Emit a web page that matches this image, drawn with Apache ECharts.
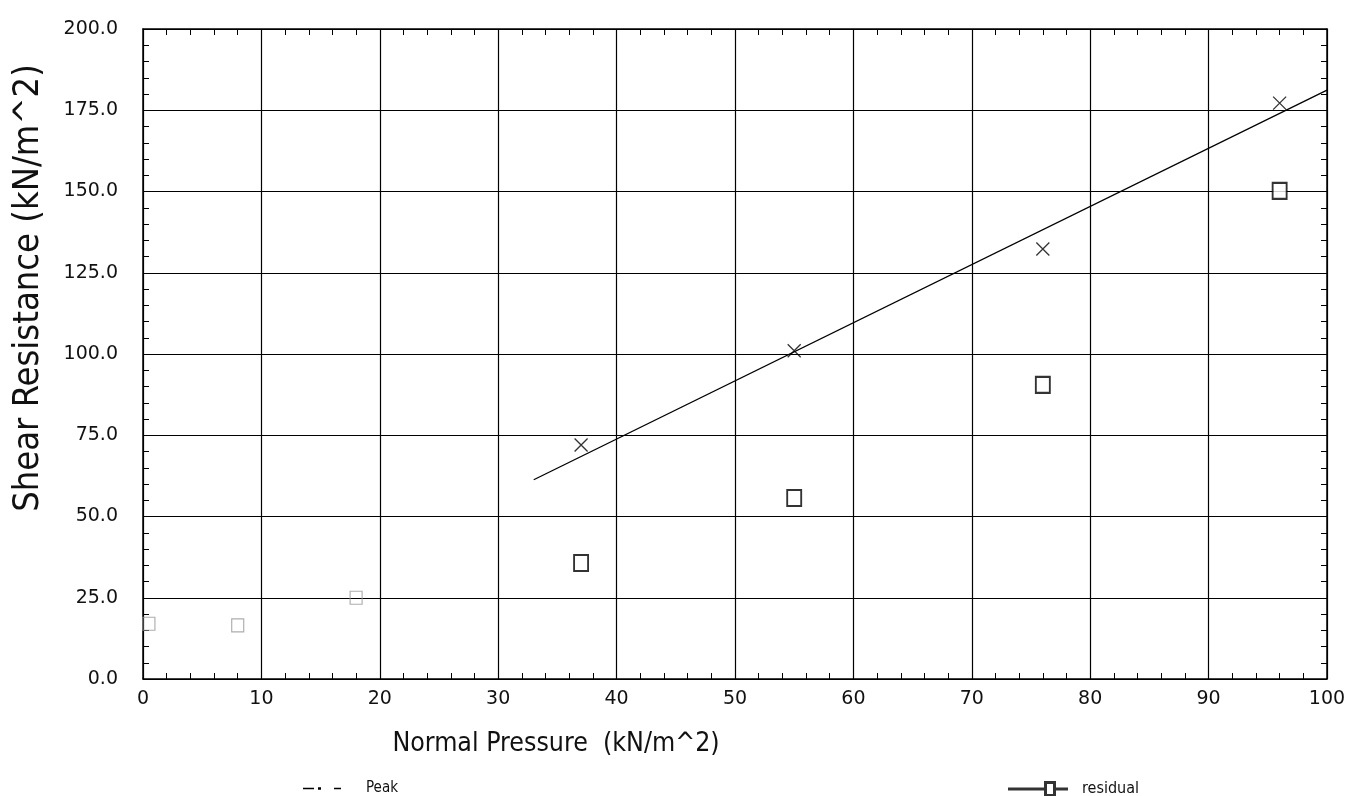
<!DOCTYPE html>
<html>
<head>
<meta charset="utf-8">
<script src="https://cdn.jsdelivr.net/npm/echarts@6/dist/echarts.min.js"></script>
<style>
  html, body { margin: 0; padding: 0; background: #fff; }
  #main { width: 1349px; height: 796px; }
</style>
</head>
<body>
<div id="main"></div>
<script>
// values
var peakPoints = [[37, 72], [55, 101], [76, 132.3], [96, 177.2]];
var residualPoints = [[37, 35.7], [55, 55.7], [76, 90.5], [96, 150.2]];
var fadedPoints = [[0.5, 17], [8, 16.5], [18, 25]];
var peakTrend = [[33, 61.3], [100, 181.2]];

var FONT = "'DejaVu Sans Condensed', 'Liberation Sans Narrow', sans-serif";
var TICKFONT = "'DejaVu Sans', sans-serif";

var chart = echarts.init(document.getElementById('main'));

var crossSymbol = 'path://M0,0L10,10M10,0L0,10';

function frameAxis(extra) {
    // shared look of the four frame axes
    var a = {
        type: 'value',
        axisLine: { show: true, onZero: false, lineStyle: { color: '#000', width: 1.5 } },
        axisTick: { inside: true, length: 7, lineStyle: { color: '#000' } },
        minorTick: { show: true, splitNumber: 5, length: 6, lineStyle: { color: '#000' } }
    };
    for (var k in extra) a[k] = extra[k];
    return a;
}

var option = {
    backgroundColor: '#fff',
    animation: false,
    grid: { left: 143, right: 22, top: 29, bottom: 117, outerBoundsMode: 'none', containLabel: false },
    legend: [
        {
            left: 298, top: 776,
            itemWidth: 38, itemHeight: 3,
            textStyle: { fontFamily: FONT, fontSize: 15, color: '#111', padding: [0, 0, 0, 20] },
            data: [{ name: 'Peak', icon: 'path://M0,0h11v1.5h-11z M15,-0.5h3v2.5h-3z M31,0h7v1.5h-7z' }]
        },
        {
            left: 1003, top: 776,
            itemWidth: 58, itemHeight: 14,
            textStyle: { fontFamily: FONT, fontSize: 16, color: '#111', padding: [0, 0, 0, 10] },
            data: [{ name: 'residual', icon: 'path://M0,6.5h36v1h-36z M46,6.5h12v1h-12z M36,0h10v14h-10z M37,1v12h8v-12z' }]
        }
    ],
    xAxis: [
        frameAxis({
            min: 0, max: 100, interval: 10,
            name: 'Normal Pressure  (kN/m^2)', nameLocation: 'middle', nameGap: 52,
            nameTextStyle: { fontFamily: FONT, fontSize: 26.5, color: '#111', padding: [0, 358, 0, 0] },
            axisLabel: { fontFamily: TICKFONT, fontSize: 19, color: '#111', margin: 11 },
            splitLine: { show: true, lineStyle: { color: '#000', width: 1.2 } }
        }),
        frameAxis({
            min: 0, max: 100, interval: 10, position: 'top',
            axisLabel: { show: false },
            splitLine: { show: false }
        })
    ],
    yAxis: [
        frameAxis({
            min: 0, max: 200, interval: 25,
            name: 'Shear Resistance (kN/m^2)', nameLocation: 'middle', nameGap: 96,
            nameTextStyle: { fontFamily: FONT, fontSize: 36, color: '#111', padding: [0, 0, 0, 132] },
            axisLabel: {
                fontFamily: TICKFONT, fontSize: 19, color: '#111', margin: 25,
                formatter: function (v) { return v.toFixed(1); }
            },
            splitLine: { show: true, lineStyle: { color: '#000', width: 1.2 } }
        }),
        frameAxis({
            min: 0, max: 200, interval: 25, position: 'right',
            axisLabel: { show: false },
            splitLine: { show: false }
        })
    ],
    series: [
        {
            name: 'Peak', type: 'line',
            data: peakTrend,
            showSymbol: false, symbol: 'none',
            lineStyle: { color: '#000', width: 1.3 },
            itemStyle: { color: '#000' },
            z: 3
        },
        {
            name: 'Peak', type: 'scatter',
            data: peakPoints,
            symbol: crossSymbol, symbolSize: 13,
            itemStyle: { color: 'none', borderColor: '#000', borderWidth: 1.3 },
            z: 4
        },
        {
            name: 'residual', type: 'scatter',
            data: residualPoints,
            symbol: 'rect', symbolSize: [14, 16],
            itemStyle: { color: '#fff', borderColor: '#000', borderWidth: 2 },
            z: 4
        },
        {
            name: 'faded', type: 'scatter',
            data: fadedPoints,
            symbol: 'rect', symbolSize: [12, 13],
            itemStyle: { color: 'none', borderColor: '#999', borderWidth: 1.2 },
            z: 4
        }
    ]
};

chart.setOption(option);
</script>
</body>
</html>
